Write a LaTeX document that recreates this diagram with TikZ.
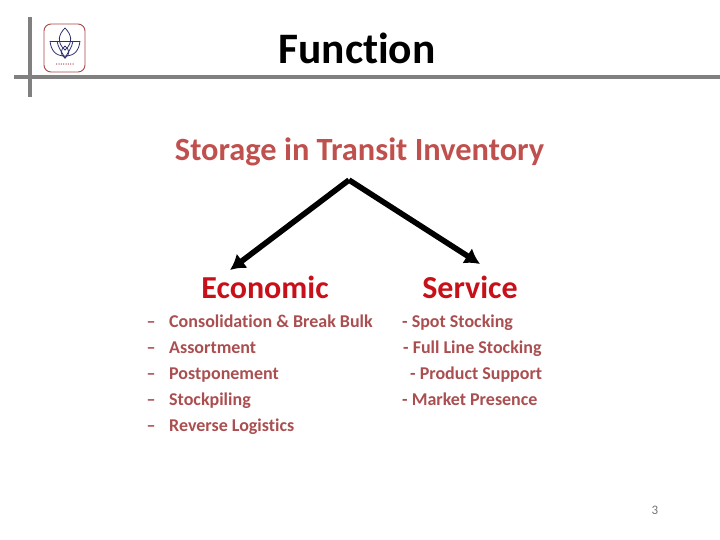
\documentclass[tikz,border=0pt]{standalone}
\usepackage{fontspec}
\setmainfont[Ligatures=NoCommon]{Carlito}
\usetikzlibrary{arrows.meta,positioning}
\definecolor{barg}{RGB}{128,128,128}
\definecolor{brick}{RGB}{192,80,77}
\definecolor{listred}{RGB}{170,78,80}
\definecolor{headred}{RGB}{200,16,26}
\definecolor{lotus}{RGB}{48,48,110}
\definecolor{rim}{RGB}{170,70,70}

\begin{document}
\begin{tikzpicture}[x=1pt,y=-1pt,
  bar/.style={draw=barg,line width=3.4pt},
  petal/.style={draw=lotus,line width=.8pt},
  head/.style={font=\fontsize{32}{34}\selectfont\bfseries,text=headred,inner sep=0pt,anchor=base},
  li/.style={font=\fontsize{18}{20}\selectfont\bfseries,text=listred,anchor=base west,inner sep=0pt},
  dashm/.style={font=\fontsize{18}{20}\selectfont\bfseries,text=listred,inner sep=0pt,anchor=base},
  a/.style={-{Latex[length=15pt,width=18pt]},line width=5.6pt,draw=black}]
  \useasboundingbox (0,0) rectangle (720,540);
  % header bars
  \draw[bar] (30,17) -- (30,97);
  \draw[bar] (14,77) -- (720,77);
  % logo
  \draw[rim,line width=.9pt,rounded corners=7pt] (44,24) rectangle (85,72);
  \draw[petal] (65,28) .. controls (59,34) and (56,42) .. (65,50) .. controls (74,42) and (71,34) .. (65,28);
  \draw[petal] (50,41) -- (80,41);
  \draw[petal] (50,41) .. controls (51,50) and (55,56) .. (65,56) .. controls (75,56) and (79,50) .. (80,41);
  \draw[petal] (57,41) .. controls (58,48) and (62,52) .. (65,58) .. controls (68,52) and (72,48) .. (73,41);
  \draw[petal] (65,46) .. controls (60,50) and (60,55) .. (65,58) .. controls (70,55) and (70,50) .. (65,46);
  \node[font=\fontsize{3.5}{4}\selectfont,text=rim,inner sep=0pt] (logotext) at (65,65) {\textbullet\,\textbullet\,\textbullet\,\textbullet\,\textbullet\,\textbullet\,\textbullet\,\textbullet};
  % texts
  \node[font=\fontsize{43.5}{46}\selectfont\bfseries,text=black,inner sep=0pt,anchor=base] (title) at (357,64) {Function};
  \node[font=\fontsize{32.4}{34}\selectfont\bfseries,text=brick,inner sep=0pt,anchor=base] (store) at (359.5,161) {Storage in Transit Inventory};
  \node[head] (econ) at (265,298) {Economic};
  \node[head] (serv) at (470,298) {Service};
  \coordinate (apex) at (349,180);
  \coordinate (econtip) at (230,270);
  \coordinate (servtip) at (480,264);
  \draw[a] (apex) -- (econtip);
  \draw[a] (apex) -- (servtip);
  % economic list
  \node[li] (e1) at (169,327) {Consolidation \& Break Bulk};
  \node[li] (e2) at (169,353) {Assortment};
  \node[li] (e3) at (169,379) {Postponement};
  \node[li] (e4) at (169,405) {Stockpiling};
  \node[li] (e5) at (169,431) {Reverse Logistics};
  \node[dashm] (d1) at (151,327) {–};
  \node[dashm] (d2) at (151,353) {–};
  \node[dashm] (d3) at (151,379) {–};
  \node[dashm] (d4) at (151,405) {–};
  \node[dashm] (d5) at (151,431) {–};
  % service list
  \node[li] (s1) at (402,327) {- Spot Stocking};
  \node[li] (s2) at (403,353) {- Full Line Stocking};
  \node[li] (s3) at (410,379) {- Product Support};
  \node[li] (s4) at (402,405) {- Market Presence};
  \node[font=\fontsize{13}{15}\selectfont,text=barg!90!black,inner sep=0pt] (pnum) at (655,510) {3};
\end{tikzpicture}
\end{document}
